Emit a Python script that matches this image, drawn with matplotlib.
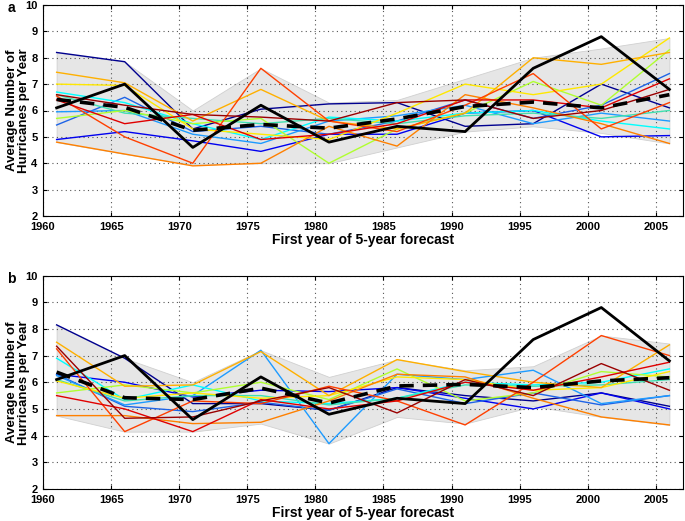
import matplotlib
matplotlib.use("Agg")
import matplotlib.pyplot as plt
import numpy as np

plt.rcParams['font.family'] = ['Liberation Sans', 'DejaVu Sans']

years = [1961, 1966, 1971, 1976, 1981, 1986, 1991, 1996, 2001, 2006]
member_colors = ['#00008f', '#0000ef', '#1e64e6', '#1e9bff', '#00ffff', '#40e0b0',
                 '#b0ff30', '#ffe800', '#ffb000', '#ff8000', '#ff4000', '#e00000', '#9a0000']

# Panel a
obs_a = [6.1, 7.0, 4.6, 6.2, 4.8, 5.4, 5.2, 7.6, 8.8, 6.8]
mean_a = [6.42, 6.12, 5.25, 5.47, 5.33, 5.68, 6.15, 6.32, 6.1, 6.6]
env_hi_a = [8.2, 7.85, 6.0, 7.6, 6.3, 6.4, 7.2, 8.0, 8.35, 8.75]
env_lo_a = [4.8, 4.35, 3.95, 4.0, 4.0, 4.6, 5.2, 5.4, 5.15, 4.75]
members_a = [
    [8.2, 7.85, 5.3, 6.05, 6.25, 6.3, 5.4, 5.5, 7.0, 6.1],
    [4.9, 5.2, 4.85, 4.45, 5.1, 5.1, 5.9, 6.0, 5.0, 5.05],
    [5.45, 6.5, 5.2, 5.4, 5.1, 5.6, 6.4, 5.7, 6.2, 7.4],
    [5.95, 6.0, 5.1, 4.75, 5.6, 5.8, 6.2, 5.5, 5.9, 5.6],
    [6.7, 6.3, 5.5, 4.9, 5.75, 5.6, 5.9, 6.0, 5.6, 5.3],
    [6.6, 5.9, 5.7, 5.5, 5.7, 5.5, 5.8, 5.9, 5.7, 6.0],
    [5.7, 6.0, 5.5, 5.7, 4.0, 5.3, 5.9, 7.1, 6.2, 8.3],
    [7.0, 6.95, 5.3, 5.1, 4.9, 5.9, 7.0, 6.6, 7.0, 8.75],
    [7.45, 7.05, 5.6, 6.8, 5.6, 5.3, 5.9, 8.0, 7.75, 8.2],
    [4.8, 4.35, 3.9, 4.0, 5.4, 4.65, 6.6, 6.1, 5.5, 4.75],
    [6.55, 5.0, 4.0, 7.6, 5.6, 5.2, 6.2, 7.4, 5.3, 6.3],
    [6.4, 5.5, 5.85, 4.9, 5.1, 5.5, 6.4, 6.4, 6.1, 7.2],
    [6.6, 6.2, 5.85, 5.75, 5.6, 6.3, 6.4, 5.7, 6.0, 6.8],
]

# Panel b
obs_b = [6.1, 7.0, 4.6, 6.2, 4.8, 5.4, 5.2, 7.6, 8.8, 6.8]
mean_b = [6.38, 5.42, 5.35, 5.78, 5.22, 5.86, 5.92, 5.8, 6.05, 6.17]
env_hi_b = [8.15, 6.9, 6.0, 7.2, 6.2, 6.85, 6.45, 6.6, 7.75, 7.45]
env_lo_b = [4.75, 4.15, 4.15, 4.45, 3.7, 4.7, 4.45, 5.1, 4.7, 4.4]
members_b = [
    [8.15, 6.9, 5.2, 5.2, 4.95, 5.8, 5.5, 5.3, 5.6, 5.1],
    [6.3, 6.0, 5.45, 5.7, 5.65, 5.8, 5.4, 5.0, 5.6, 5.0],
    [6.3, 5.1, 4.9, 5.25, 4.95, 5.75, 5.2, 5.6, 5.15, 5.5],
    [6.25, 5.15, 5.5, 7.2, 3.7, 6.3, 6.1, 6.45, 5.2, 5.5],
    [6.9, 5.35, 5.9, 5.3, 5.2, 5.4, 6.0, 5.9, 6.0, 6.5],
    [6.1, 5.3, 5.5, 5.5, 5.15, 5.4, 5.9, 5.85, 5.9, 6.1],
    [5.6, 5.9, 5.6, 6.0, 5.35, 6.5, 5.3, 5.6, 6.4, 6.2],
    [6.05, 5.4, 5.6, 5.4, 5.5, 6.2, 6.1, 5.7, 5.8, 6.4],
    [7.5, 5.85, 5.9, 7.15, 5.5, 6.85, 6.4, 6.0, 5.8, 7.4],
    [4.75, 4.75, 4.45, 4.5, 5.3, 6.3, 6.2, 5.4, 4.7, 4.4],
    [7.25, 4.15, 5.3, 5.2, 5.85, 5.3, 4.4, 6.0, 7.75, 7.0],
    [5.5, 5.0, 4.15, 5.35, 5.0, 5.3, 6.0, 5.7, 6.2, 6.75],
    [7.35, 4.65, 4.7, 5.3, 5.8, 4.85, 6.1, 5.5, 6.7, 5.7],
]

xticks = [1960, 1965, 1970, 1975, 1980, 1985, 1990, 1995, 2000, 2005]
yticks = [2, 3, 4, 5, 6, 7, 8, 9, 10]

fig = plt.figure(figsize=(6.85, 5.21), dpi=100)
ax_a = fig.add_axes([43/685, 1-216/521, 640/685, 211/521])
ax_b = fig.add_axes([43/685, 1-489/521, 640/685, 213.5/521])

def draw(ax, members, obs, mean, lo, hi, letter):
    ax.fill_between(years, lo, hi, facecolor='#e6e6e6', edgecolor='#d0d0d0', lw=0.6, zorder=1)
    for vals, c in zip(members, member_colors):
        ax.plot(years, vals, color=c, lw=1.0, zorder=2)
    ax.plot(years, mean, color='black', lw=2.6, ls=(0, (4, 2.5)), zorder=3)
    ax.plot(years, obs, color='black', lw=2.0, zorder=4)
    ax.set_xlim(1960, 2007)
    ax.set_ylim(2, 10)
    ax.set_xticks(xticks)
    ax.set_yticks(yticks)
    ax.grid(True, color='#555555', ls=(0, (1, 3)), lw=0.8)
    ax.tick_params(direction='in', length=3, top=True, right=True, labelsize=8, pad=4)
    ax.tick_params(axis='y', pad=4)
    for lab in ax.get_xticklabels() + ax.get_yticklabels():
        lab.set_fontweight('bold')
    for s in ax.spines.values():
        s.set_linewidth(0.8)
    ax.set_xlabel('First year of 5-year forecast', fontsize=10, fontweight='bold', labelpad=1)
    ax.set_ylabel('Average Number of\nHurricanes per Year', fontsize=9.5, fontweight='bold',
                  linespacing=1.0, va='center', ha='center')
    ax.yaxis.set_label_coords(-0.039, 0.5)
    ax.text(-0.05, 0.985, letter, transform=ax.transAxes, fontsize=10, fontweight='bold',
            ha='center', va='center')

draw(ax_a, members_a, obs_a, mean_a, env_lo_a, env_hi_a, 'a')
draw(ax_b, members_b, obs_b, mean_b, env_lo_b, env_hi_b, 'b')

fig.savefig('out.png', dpi=100)
